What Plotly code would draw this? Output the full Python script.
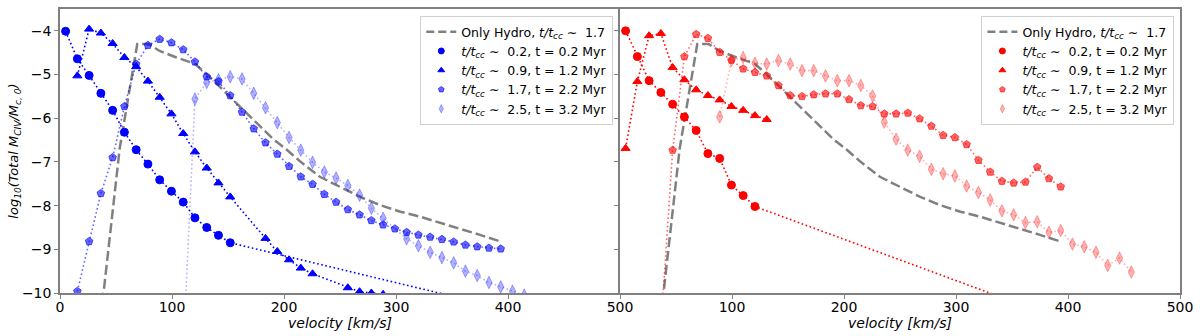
import plotly.graph_objects as go

# ---------------- data ----------------
# Only Hydro (same in both panels)
hydro_v = [36.5, 53.3, 69, 79, 89, 104, 120, 131, 143, 155, 167, 179, 190, 202, 214,
           232, 250, 268, 286, 304, 321, 339, 357, 375, 393]
hydro_y = [-10.54, -6.69, -4.30, -4.30, -4.46, -4.61, -4.75, -4.99, -5.29, -5.59, -5.90,
           -6.20, -6.47, -6.71, -6.98, -7.34, -7.57, -7.80, -7.99, -8.14, -8.25, -8.39,
           -8.52, -8.67, -8.82]

# Left panel (blue)
bl_circ_v = [5, 15.5, 26, 36.5, 47, 57.5, 68, 78.5, 89, 99.5, 110, 120.5, 131, 141.5, 152, 400]
bl_circ_y = [-4.01, -4.64, -5.02, -5.43, -5.82, -6.32, -6.72, -7.05, -7.41, -7.67, -7.92,
             -8.28, -8.50, -8.68, -8.85, -10.38]

bl_tri_v = [15.5, 26, 36.5, 47, 57.5, 68, 78.5, 89, 99.5, 110, 120.5, 131, 141.5, 152,
            183.5, 194, 204.5, 215, 225.5, 257, 267.5, 278, 288.5]
bl_tri_y = [-5.03, -3.96, -4.05, -4.29, -4.61, -4.82, -5.15, -5.52, -5.90, -6.35, -6.77,
            -7.14, -7.48, -7.80, -8.75, -9.05, -9.24, -9.43, -9.56, -9.88, -9.97, -10.0, -10.03]

bl_pent_v = [15.5, 26, 36.5, 47, 57.5, 68, 78.5, 89, 99.5, 110, 120.5, 131, 141.5, 152,
             162.5, 173, 183.5, 194, 204.5, 215, 225.5, 236, 246.5, 257, 267.5, 278, 288.5,
             299, 309.5, 320, 330.5, 341, 351.5, 362, 372.5, 383, 393.5]
bl_pent_y = [-9.96, -8.82, -7.72, -6.90, -5.73, -4.76, -4.33, -4.19, -4.27, -4.43, -4.71,
             -5.05, -5.16, -5.48, -5.86, -6.24, -6.56, -6.82, -7.10, -7.34, -7.51, -7.74,
             -7.92, -8.09, -8.21, -8.34, -8.44, -8.53, -8.61, -8.67, -8.72, -8.77, -8.83,
             -8.90, -8.94, -8.97, -8.99]

bl_diam_v = [110, 120.5, 131, 141.5, 152, 162.5, 173, 183.5, 194, 204.5, 215, 225.5, 236,
             246.5, 257, 267.5, 278, 288.5, 309.5, 320, 330.5, 341, 351.5, 362, 372.5, 383,
             393.5, 404, 414.5]
bl_diam_y = [-11.3, -5.56, -5.18, -5.12, -5.05, -5.10, -5.43, -5.76, -6.10, -6.44, -6.73,
             -7.01, -7.23, -7.37, -7.54, -7.76, -8.06, -8.29, -8.76, -8.92, -9.07, -9.19,
             -9.31, -9.50, -9.60, -9.76, -9.86, -9.96, -10.05]

# Right panel (red)
rd_circ_v = [5, 15.5, 26, 36.5, 47, 57.5, 68, 78.5, 89, 99.5, 110, 120.5, 400]
rd_circ_y = [-4.0, -4.59, -5.14, -5.41, -5.68, -5.97, -6.28, -6.81, -6.92, -7.53, -7.77,
             -8.02, -10.66]

rd_tri_v = [5, 15.5, 26, 36.5, 47, 57.5, 68, 78.5, 89, 99.5, 110, 120.5, 131]
rd_tri_y = [-6.69, -5.16, -4.11, -4.06, -4.84, -5.12, -5.35, -5.48, -5.58, -5.73, -5.82,
            -5.94, -6.03]

rd_pent_v = [36.5, 47, 57.5, 68, 78.5, 89, 99.5, 110, 120.5, 131, 141.5, 152, 162.5, 173,
             183.5, 194, 204.5, 215, 225.5, 236, 246.5, 257, 267.5, 278, 288.5, 299, 309.5,
             320, 330.5, 341, 351.5, 362, 372.5, 383, 393.5]
rd_pent_y = [-10.8, -6.73, -4.59, -4.08, -4.17, -4.49, -4.67, -4.87, -4.95, -5.03, -5.25,
             -5.48, -5.50, -5.46, -5.44, -5.44, -5.57, -5.71, -5.73, -5.90, -5.90, -5.88,
             -6.01, -6.18, -6.39, -6.44, -6.60, -6.96, -7.23, -7.44, -7.48, -7.46, -7.12,
             -7.38, -7.57]

rd_diam_v = [89, 99.5, 110, 120.5, 131, 141.5, 152, 162.5, 173, 183.5, 194, 204.5, 215,
             225.5, 236, 246.5, 257, 267.5, 278, 288.5, 299, 309.5, 320, 330.5, 341, 351.5,
             362, 372.5, 383, 393.5, 404, 414.5, 425, 435.5, 446, 456.5]
rd_diam_y = [-5.97, -4.68, -4.61, -4.74, -4.76, -4.68, -4.76, -4.91, -4.91, -5.03, -5.14,
             -5.14, -5.25, -5.49, -6.09, -6.48, -6.73, -6.87, -7.17, -7.27, -7.32, -7.55,
             -7.70, -7.87, -8.12, -8.21, -8.39, -8.37, -8.61, -8.57, -8.88, -8.94, -9.07,
             -9.37, -9.20, -9.52]

hydro_label = "Only Hydro, <i>t/t<sub>cc</sub></i>\u00a0\u223c\u00a0\u00a01.7"
series_labels = [
    "<i>t/t<sub>cc</sub></i>\u00a0\u223c\u00a0\u00a00.2, t = 0.2 Myr",
    "<i>t/t<sub>cc</sub></i>\u00a0\u223c\u00a0\u00a00.9, t = 1.2 Myr",
    "<i>t/t<sub>cc</sub></i>\u00a0\u223c\u00a0\u00a01.7, t = 2.2 Myr",
    "<i>t/t<sub>cc</sub></i>\u00a0\u223c\u00a0\u00a02.5, t = 3.2 Myr",
]
x_ticks = [0, 100, 200, 300, 400, 500]
y_ticks = [-10, -9, -8, -7, -6, -5, -4]

# ---------------- styling ----------------
FONT = "DejaVu Sans"
AXC = "#808080"
symbols = ["circle", "triangle-up", "pentagon", "diamond-tall"]
sizes = [8, 8, 8, 9]
alphas = [1.0, 1.0, 0.6, 0.3]

fig = go.Figure()


def add_panel(xa, ya, legend, rgb, data, tag):
    fig.add_trace(go.Scatter(x=hydro_v, y=hydro_y, mode="lines",
                             line=dict(color="gray", width=2.5, dash="10px,4px"),
                             xaxis=xa, yaxis=ya, showlegend=False, hoverinfo="skip"))
    for i, (v, y) in enumerate(data):
        c = f"rgba({rgb},{alphas[i]})"
        fig.add_trace(go.Scatter(x=v, y=y, mode="lines+markers",
                                 line=dict(color=c, width=1.6, dash="1.6px,2.6px"),
                                 marker=dict(symbol=symbols[i], size=sizes[i], color=c,
                                             line=dict(color=c, width=1)),
                                 xaxis=xa, yaxis=ya, showlegend=False))
    # legend entries
    fig.add_trace(go.Scatter(x=[None], y=[None], mode="lines", name=hydro_label,
                             line=dict(color="gray", width=2.5, dash="8px,4px"),
                             xaxis=xa, yaxis=ya, legend=legend, legendgroup=tag + "h"))
    for i in range(4):
        c = f"rgba({rgb},{alphas[i]})"
        fig.add_trace(go.Scatter(x=[None], y=[None], mode="markers", name=series_labels[i],
                                 marker=dict(symbol=symbols[i], size=6, color=c,
                                             line=dict(color=c, width=1)),
                                 xaxis=xa, yaxis=ya, legend=legend,
                                 legendgroup=tag + str(i)))


add_panel("x", "y", "legend", "0,0,255",
          [(bl_circ_v, bl_circ_y), (bl_tri_v, bl_tri_y),
           (bl_pent_v, bl_pent_y), (bl_diam_v, bl_diam_y)], "L")
add_panel("x2", "y2", "legend2", "255,0,0",
          [(rd_circ_v, rd_circ_y), (rd_tri_v, rd_tri_y),
           (rd_pent_v, rd_pent_y), (rd_diam_v, rd_diam_y)], "R")

axis_common = dict(showline=True, linecolor=AXC, linewidth=1.5,
                   ticks="outside", ticklen=4, tickcolor=AXC, tickwidth=1.2,
                   showgrid=False, zeroline=False,
                   tickfont=dict(family=FONT, size=14, color="black"))

xtitle = dict(text="<i>velocity [km/s]</i>", font=dict(family=FONT, size=14, color="black"),
              standoff=0)

legend_common = dict(bgcolor="rgba(255,255,255,0.8)", bordercolor="#d0d0d0", borderwidth=1,
                     font=dict(family=FONT, size=12.5, color="black"),
                     xanchor="right", yanchor="top", tracegroupgap=0, itemwidth=30)

fig.update_layout(
    width=1200, height=336,
    margin=dict(l=60, r=20, t=7, b=43),
    paper_bgcolor="white", plot_bgcolor="white",
    font=dict(family=FONT, size=13, color="black"),
    xaxis=dict(domain=[0, 0.5], range=[0, 500], tickvals=x_ticks, mirror=True,
               ticktext=[str(t) for t in x_ticks], title=xtitle, ticklabelstandoff=-4,
               **axis_common),
    xaxis2=dict(domain=[0.5, 1], range=[0, 500], tickvals=x_ticks, mirror=True,
                ticktext=[""] + [str(t) for t in x_ticks[1:]], title=xtitle,
                ticklabelstandoff=-4, anchor="y2", **axis_common),
    yaxis=dict(range=[-10, -3.5], tickvals=y_ticks, mirror=False,
               title=dict(text="<i>log<sub>10</sub>(Total M<sub>CIV</sub>/M<sub>c, 0</sub>)</i>",
                          font=dict(family=FONT, size=13, color="black"), standoff=0),
               anchor="x", **axis_common),
    yaxis2=dict(range=[-10, -3.5], tickvals=y_ticks, showticklabels=False, mirror=True,
                anchor="x2", matches="y", **axis_common),
    legend=dict(x=0.494, y=0.975, **legend_common),
    legend2=dict(x=0.995, y=0.975, **legend_common),
)

fig.write_html("out.html", config={"displayModeBar": False},
               post_script="document.body.style.margin='0';document.body.style.padding='0';")
